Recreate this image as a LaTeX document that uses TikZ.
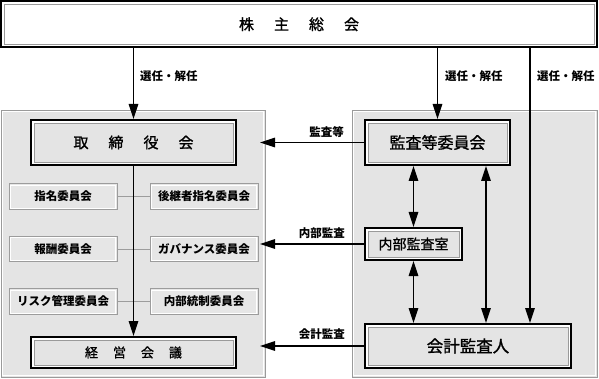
\documentclass[tikz,border=0pt]{standalone}
\usepackage{fontspec}
\newfontfamily\jp{Noto Sans CJK JP}
\newfontfamily\jpm[FakeBold=1.2]{Noto Sans CJK JP}
\usetikzlibrary{arrows.meta,calc}
\definecolor{panel}{HTML}{E4E4E4}
\definecolor{pborder}{HTML}{9A9A9A}
\definecolor{sboxfill}{HTML}{E6E6E6}
\definecolor{sboxline}{HTML}{9C9C9C}
\definecolor{innergray}{HTML}{9A9A9A}
\begin{document}
\begin{tikzpicture}[x=1pt,y=-1pt,
  panelbox/.style={draw=pborder, line width=0.9pt, fill=panel, inner sep=0pt,
    path picture={\draw[white, line width=0.7pt]
      ([shift={(1.3pt,1.3pt)}]path picture bounding box.south west) rectangle
      ([shift={(-1.3pt,-1.3pt)}]path picture bounding box.north east);}},
  mainbox/.style={draw=black, line width=2pt, fill=white, inner sep=0pt,
    text=black,
    path picture={\draw[innergray, line width=0.9pt, fill=#1]
      ([shift={(3pt,3pt)}]path picture bounding box.south west) rectangle
      ([shift={(-3pt,-3pt)}]path picture bounding box.north east);}},
  mainbox/.default=panel,
  sbox/.style={draw=sboxline, line width=0.8pt, fill=sboxfill, inner sep=0pt,
    minimum width=108pt, minimum height=25.5pt, font=\jp\bfseries\fontsize{11.5}{12}\selectfont,
    path picture={\draw[white, line width=0.7pt]
      ([shift={(1.2pt,1.2pt)}]path picture bounding box.south west) rectangle
      ([shift={(-1.2pt,-1.2pt)}]path picture bounding box.north east);}},
  lab/.style={font=\jp\bfseries\fontsize{11.5}{12}\selectfont, inner sep=0pt},
  arr/.style={line width=1.5pt, -{Triangle[length=15pt,width=9.5pt]}},
  darr/.style={line width=1.5pt, {Triangle[length=15pt,width=9.5pt]}-{Triangle[length=15pt,width=9.5pt]}},
  link/.style={draw=sboxline, line width=0.8pt}
]
\useasboundingbox (0,0) rectangle (599,379);

% panels
\node[panelbox, minimum width=264pt, minimum height=267pt] (lp) at (133,243.5) {};
\node[panelbox, minimum width=245pt, minimum height=267pt] (rp) at (474.5,243.5) {};

% top box
\node[mainbox=white, minimum width=596pt, minimum height=46.5pt,
  font=\jpm\fontsize{15}{16}\selectfont] (sh) at (299,24.25)
  {株\hspace{20pt}主\hspace{20pt}総\hspace{20pt}会};

% left main boxes
\node[mainbox, minimum width=205pt, minimum height=45pt,
  font=\jpm\fontsize{15}{16}\selectfont] (tb) at (133.5,142.5)
  {取\hspace{20pt}締\hspace{20pt}役\hspace{20pt}会};
\node[mainbox, minimum width=205pt, minimum height=31pt,
  font=\jpm\fontsize{13}{14}\selectfont] (kk) at (133.5,352.5)
  {経\hspace{15pt}営\hspace{15pt}会\hspace{15pt}議};

% committees
\node[sbox] (s1) at (63,196.5) {指名委員会};
\node[sbox] (s2) at (204,196.5) {後継者指名委員会};
\node[sbox] (s3) at (63,249) {報酬委員会};
\node[sbox] (s4) at (204,249) {ガバナンス委員会};
\node[sbox] (s5) at (63,301.5) {リスク管理委員会};
\node[sbox] (s6) at (204,301.5) {内部統制委員会};
\draw[link] (s1.east) -- (s2.west);
\draw[link] (s3.east) -- (s4.west);
\draw[link] (s5.east) -- (s6.west);

% right main boxes
\node[mainbox, minimum width=145pt, minimum height=45pt,
  font=\jpm\fontsize{16}{17}\selectfont] (ka) at (437.5,142.5) {監査等委員会};
\node[mainbox, minimum width=97pt, minimum height=32pt,
  font=\jpm\fontsize{14}{15}\selectfont] (nb) at (413.5,244) {内部監査室};
\node[mainbox, minimum width=206pt, minimum height=44pt,
  font=\jpm\fontsize{16.5}{17}\selectfont] (ak) at (468,346) {会計監査人};

% coordinates
\coordinate (tipL) at (260,0);
\coordinate (xr) at (530,0);
\coordinate (xm) at (486,0);

% arrows
\draw[arr] (sh.south -| tb.north) -- (tb.north);
\draw[arr] (tb.south) -- (kk.north);
\draw[arr] (sh.south -| ka.north) -- (ka.north);
\draw[arr] (sh.south -| xr) -- (ak.north -| xr);
\draw[darr] (ka.south -| nb.north) -- (nb.north);
\draw[darr] (nb.south) -- (ak.north -| nb.south);
\draw[darr] (ka.south -| xm) -- (ak.north -| xm);
\draw[arr] (ka.west) -- (ka.west -| tipL);
\draw[arr] (nb.west) -- (nb.west -| tipL);
\draw[arr] (ak.west) -- (ak.west -| tipL);

% labels
\node[lab, anchor=west] (e1) at (140,76) {選任・解任};
\node[lab, anchor=west] (e2) at (445,76) {選任・解任};
\node[lab, anchor=west] (e3) at (537,76) {選任・解任};
\node[lab, anchor=east] (m1) at (344,132) {監査等};
\node[lab, anchor=east] (m2) at (345,233) {内部監査};
\node[lab, anchor=east] (m3) at (345,334) {会計監査};
\end{tikzpicture}
\end{document}
